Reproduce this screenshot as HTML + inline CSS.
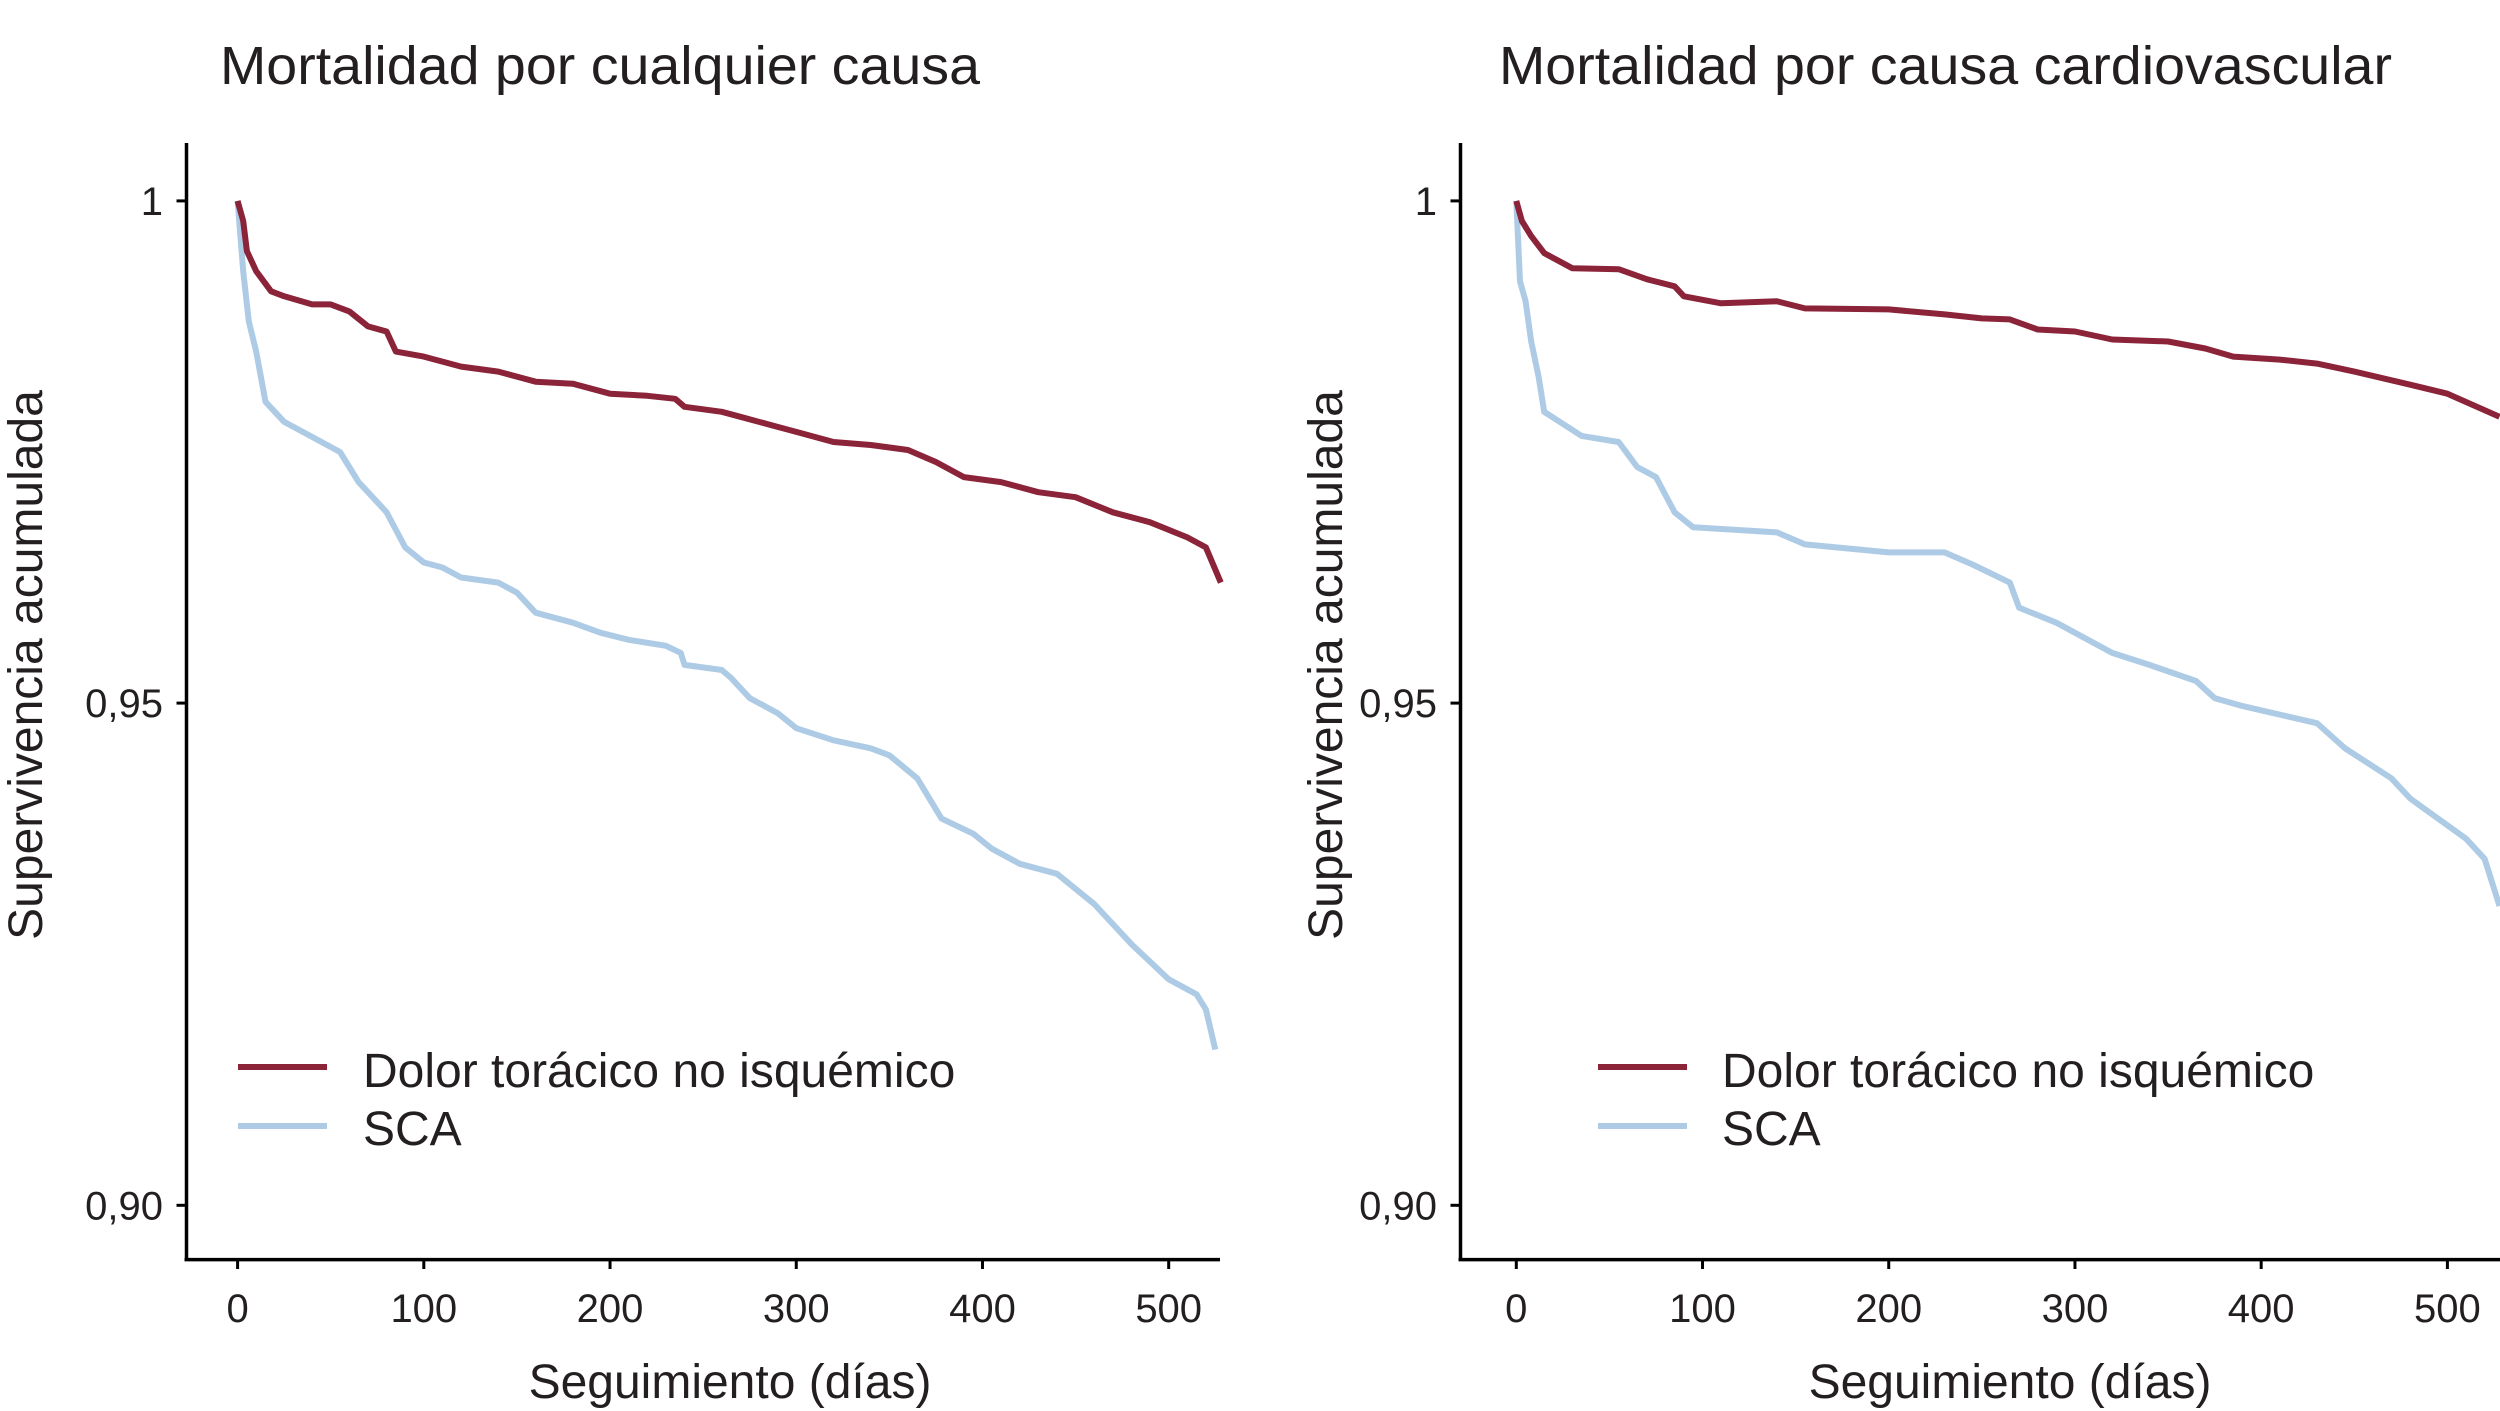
<!DOCTYPE html>
<html><head><meta charset="utf-8"><style>
html,body{margin:0;padding:0;background:#fff}
svg{display:block}
text{font-family:"Liberation Sans",Arial,sans-serif;fill:#231f20}
</style></head><body>
<svg id="chart" width="2500" height="1411" viewBox="0 0 2500 1411"></svg>
<script>
const dayTicks=[0,100,200,300,400,500];
const survTicks=[1,0.95,0.90];
const survTickLabels=["1","0,95","0,90"];
const leftRedDays=[0,3,5,10,18,25,40,50,60,70,80,85,100,120,140,160,180,200,220,235,240,260,270,290,300,320,340,360,375,390,410,430,450,470,490,510,520,528];
const leftRedSurv=[1.0,0.998,0.995,0.993,0.991,0.9905,0.9897,0.9897,0.989,0.9875,0.987,0.985,0.9845,0.9835,0.983,0.982,0.9818,0.9808,0.9806,0.9803,0.9795,0.979,0.9785,0.9775,0.977,0.976,0.9757,0.9752,0.974,0.9725,0.972,0.971,0.9705,0.969,0.968,0.9665,0.9655,0.962];
const leftBlueDays=[0,3,6,10,15,25,40,55,65,75,80,90,100,110,120,140,150,160,180,195,210,230,238,240,260,265,275,290,300,320,340,350,365,378,395,405,420,440,460,480,500,515,520,525];
const leftBlueSurv=[1.0,0.993,0.988,0.985,0.98,0.978,0.9765,0.975,0.972,0.970,0.969,0.9655,0.964,0.9635,0.9625,0.962,0.961,0.959,0.958,0.957,0.9563,0.9557,0.955,0.9538,0.9533,0.9525,0.9505,0.949,0.9475,0.9463,0.9455,0.9448,0.9425,0.9385,0.937,0.9355,0.934,0.933,0.930,0.926,0.9225,0.921,0.9195,0.9155];
const rightRedDays=[0,3,8,15,30,55,70,85,90,110,140,155,200,230,250,265,280,300,320,350,370,385,410,430,450,480,500,528];
const rightRedSurv=[1.0,0.998,0.9965,0.9948,0.9933,0.9932,0.9922,0.9915,0.9905,0.9898,0.990,0.9893,0.9892,0.9887,0.9883,0.9882,0.9872,0.987,0.9862,0.986,0.9853,0.9845,0.9842,0.9838,0.983,0.9817,0.9808,0.9785];
const rightBlueDays=[0,2,5,8,12,15,25,35,55,65,75,85,95,140,155,200,230,245,265,270,290,305,320,340,365,375,390,430,445,470,480,510,520,528];
const rightBlueSurv=[1.0,0.992,0.99,0.986,0.9825,0.979,0.9778,0.9766,0.976,0.9735,0.9725,0.969,0.9675,0.967,0.9658,0.965,0.965,0.9638,0.962,0.9595,0.958,0.9565,0.955,0.9538,0.9522,0.9505,0.9497,0.948,0.9455,0.9425,0.9405,0.9365,0.9345,0.9298];
const titles=["Mortalidad por cualquier causa","Mortalidad por causa cardiovascular"];
const legendLabels=["Dolor torácico no isquémico","SCA"];
const RED="#8b2339",BLUE="#aecbe6";
const NS="http://www.w3.org/2000/svg";
const svg=document.getElementById('chart');
function mk(tag,attrs,parent){const e=document.createElementNS(NS,tag);for(const k in attrs)e.setAttribute(k,attrs[k]);(parent||svg).appendChild(e);return e;}
const yOf=v=>200.9+(1-v)/0.05*502.2;
const panels=[
 {axisX:186.5,x0:237.6,right:1220,titleX:220,titleW:760,yLabX:163,yTitleX:42,xTitleX:730,legLine:238,legText:363,red:[leftRedDays,leftRedSurv],blue:[leftBlueDays,leftBlueSurv]},
 {axisX:1460.5,x0:1516.3,right:2500,titleX:1499,titleW:893,yLabX:1437,yTitleX:1342,xTitleX:2010,legLine:1598,legText:1722,red:[rightRedDays,rightRedSurv],blue:[rightBlueDays,rightBlueSurv]}
];
panels.forEach((p,i)=>{
 const xOf=d=>p.x0+d*1.8622;
 const g=mk('g',{});
 
 
 const t=mk('text',{x:p.titleX,y:84,'font-size':54,textLength:p.titleW,lengthAdjust:'spacingAndGlyphs'},g);
 t.textContent=titles[i];
 
 
 const ya=mk('line',{x1:p.axisX,y1:143,x2:p.axisX,y2:1261,stroke:'#000','stroke-width':3.5},g);
 
 
 const xa=mk('line',{x1:p.axisX-2,y1:1259.6,x2:p.right,y2:1259.6,stroke:'#000','stroke-width':3.5},g);
 
 
 dayTicks.forEach(d=>{
  mk('line',{x1:xOf(d),y1:1259.6,x2:xOf(d),y2:1269,stroke:'#000','stroke-width':3},g);
  const l=mk('text',{x:xOf(d),y:1322,'font-size':40,'text-anchor':'middle'},g);
  l.textContent=d;
  
  
 });
 survTicks.forEach((v,k)=>{
  mk('line',{x1:p.axisX-10,y1:yOf(v),x2:p.axisX,y2:yOf(v),stroke:'#000','stroke-width':3},g);
  const l=mk('text',{x:p.yLabX,y:yOf(v)+14,'font-size':40,'text-anchor':'end'},g);
  l.textContent=survTickLabels[k];
  
  
 });
 const yt=mk('text',{x:0,y:0,'font-size':48,'text-anchor':'middle',transform:`translate(${p.yTitleX},665) rotate(-90)`},g);
 yt.textContent="Supervivencia acumulada";
 
 
 const xt=mk('text',{x:p.xTitleX,y:1398,'font-size':48,'text-anchor':'middle'},g);
 xt.textContent="Seguimiento (días)";
 
 
 [[p.blue,BLUE,'sca'],[p.red,RED,'no-ischemic']].forEach(([s,c,n])=>{
  const pts=s[0].map((d,k)=>xOf(d).toFixed(1)+','+yOf(s[1][k]).toFixed(1)).join(' ');
  const pl=mk('polyline',{points:pts,fill:'none',stroke:c,'stroke-width':6,'stroke-linejoin':'round'},g);
  
  
 });
 [[RED,1067,1087],[BLUE,1126,1145]].forEach(([c,ly,ty],k)=>{
  const e=mk('g',{},g);
  
  
  mk('line',{x1:p.legLine,y1:ly,x2:p.legLine+89,y2:ly,stroke:c,'stroke-width':6},e);
  const lt=mk('text',{x:p.legText,y:ty,'font-size':48},e);
  lt.textContent=legendLabels[k];
 });
});
</script>
</body></html>
